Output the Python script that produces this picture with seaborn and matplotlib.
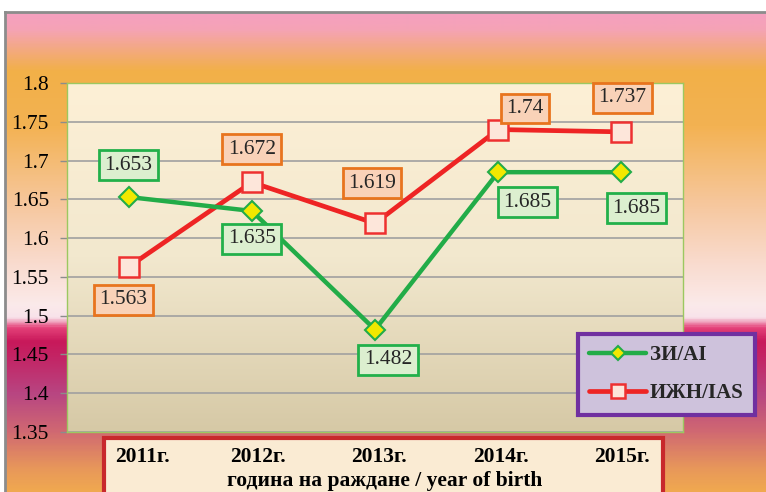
import numpy as np
import pandas as pd
import matplotlib
matplotlib.use('Agg')
import matplotlib.pyplot as plt
from matplotlib.colors import LinearSegmentedColormap
from matplotlib.patches import Rectangle
from matplotlib.transforms import ScaledTranslation
import seaborn as sns

# Données
years = ['2011г.', '2012г.', '2013г.', '2014г.', '2015г.']
ai_values = [1.653, 1.635, 1.482, 1.685, 1.685]
ias_values = [1.563, 1.672, 1.619, 1.740, 1.737]
ai_text = ['1.653', '1.635', '1.482', '1.685', '1.685']
ias_text = ['1.563', '1.672', '1.619', '1.74', '1.737']
y_ticks = [1.35, 1.4, 1.45, 1.5, 1.55, 1.6, 1.65, 1.7, 1.75, 1.8]
y_tick_labels = ['1.35', '1.4', '1.45', '1.5', '1.55', '1.6', '1.65', '1.7', '1.75', '1.8']
series_names = ['ЗИ/AI', 'ИЖН/IAS']
x_title = 'година на раждане / year of birth'

# Décalages des étiquettes (pixels)
ai_offsets = [(0, 32), (0, -28), (13, -30), (29, -30), (15, -36)]
ias_offsets = [(-5, -33), (0, 33), (-3, 40), (27, 21), (1, 34)]
xlabel_shift = [14, 6, 4, 3, 1]

df = pd.DataFrame({
    'pos': list(range(len(years))) * 2,
    'value': ai_values + ias_values,
    'series': [series_names[0]] * len(years) + [series_names[1]] * len(years),
})

sns.set_theme(style='white')
plt.rcParams['font.family'] = ['Liberation Serif', 'DejaVu Serif']

W, H = 766, 492
fig = plt.figure(figsize=(W / 100, H / 100), dpi=100)

# Fond dégradé du cadre
bg = fig.add_axes([5 / W, 0, 1 - 5 / W, 1 - 12 / H])
bg.set_zorder(-2)
stops_px = [(12, '#F5A0C0'), (28, '#F5A3B6'), (70, '#F2B048'), (125, '#F3B252'),
            (200, '#F6C69A'), (260, '#F9DACC'), (305, '#FBEAEA'), (318, '#F8E2EA'),
            (328, '#E5427A'), (342, '#C8185A'), (362, '#C22868'), (395, '#B84682'),
            (432, '#D06872'), (470, '#E8985A'), (492, '#F0A850')]
stops = [((y - 12) / (H - 12), c) for y, c in stops_px]
cmap_bg = LinearSegmentedColormap.from_list('fond', stops)
bg.imshow(np.linspace(0, 1, 600).reshape(-1, 1), cmap=cmap_bg, aspect='auto',
          extent=[0, 1, 0, 1], interpolation='bilinear')
bg.set_xticks([])
bg.set_yticks([])
for side in ['right', 'bottom']:
    bg.spines[side].set_visible(False)
for side in ['top', 'left']:
    bg.spines[side].set_color('#8C8C8C')
    bg.spines[side].set_linewidth(2)

# Boîte rouge de l'axe des x
bg.add_patch(Rectangle((104 / W, -0.05), (663 - 104) / W, 1 - 438 / H + 0.05,
                       transform=fig.transFigure, facecolor='#FAEBD3',
                       edgecolor='#C8282C', linewidth=3, clip_on=False))

rect = [67 / W, 1 - 432 / H, (683 - 67) / W, (432 - 83) / H]

# Fond dégradé de la zone de tracé
pa = fig.add_axes(rect)
pa.set_zorder(-1)
cmap_pa = LinearSegmentedColormap.from_list('zone', [(0, '#FDF0D6'), (0.5, '#F2E8CE'), (1, '#D6C9A6')])
pa.imshow(np.linspace(0, 1, 400).reshape(-1, 1), cmap=cmap_pa, aspect='auto',
          extent=[0, 1, 0, 1], interpolation='bilinear')
pa.set_axis_off()

ax = fig.add_axes(rect)
ax.set_zorder(1)
ax.set_facecolor('none')

sns.lineplot(data=df[df['series'] == series_names[0]], x='pos', y='value', ax=ax,
             color='#22AC48', linewidth=3.2, marker='D', markersize=10,
             markerfacecolor='#F2E800', markeredgecolor='#22AC48', markeredgewidth=1.5,
             label=series_names[0], zorder=4)
sns.lineplot(data=df[df['series'] == series_names[1]], x='pos', y='value', ax=ax,
             color='#EE2424', linewidth=3.4, marker='s', markersize=14,
             markerfacecolor='#FDE6DA', markeredgecolor='#EE3030', markeredgewidth=1.8,
             label=series_names[1], zorder=3)

# Étiquettes de valeurs
for i, (v, t) in enumerate(zip(ai_values, ai_text)):
    ax.annotate(t, (i, v), xytext=ai_offsets[i], textcoords='offset pixels',
                ha='center', va='center', fontsize=15.5, zorder=6,
                bbox=dict(boxstyle='square,pad=0.25', facecolor='#DCEFCF',
                          edgecolor='#22B04A', linewidth=2))
for i, (v, t) in enumerate(zip(ias_values, ias_text)):
    ax.annotate(t, (i, v), xytext=ias_offsets[i], textcoords='offset pixels',
                ha='center', va='center', fontsize=15.5, zorder=6,
                bbox=dict(boxstyle='square,pad=0.25', facecolor='#F9D2B8',
                          edgecolor='#E8741E', linewidth=2))

ax.set_xlim(-0.5, len(years) - 0.5)
ax.set_ylim(y_ticks[0], y_ticks[-1])
ax.set_yticks(y_ticks, y_tick_labels, fontsize=15.5)
ax.set_xticks(range(len(years)), years, fontsize=15.5, fontweight='bold')
ax.tick_params(axis='y', left=True, length=5, width=1, color='#8C8C8C', pad=8, labelcolor='black')
ax.tick_params(axis='x', length=0, pad=11, labelcolor='black')
for lbl, dx in zip(ax.get_xticklabels(), xlabel_shift):
    lbl.set_transform(lbl.get_transform() + ScaledTranslation(dx / 100, 0, fig.dpi_scale_trans))
ax.grid(axis='y', color='#A0A0A0', linewidth=1.2)
ax.grid(axis='x', visible=False)
for side in ax.spines:
    ax.spines[side].set_color('#9CC860')
    ax.spines[side].set_linewidth(1)

ax.set_ylabel('')
ax.set_xlabel(x_title, fontsize=15.5, fontweight='bold', color='black')
ax.xaxis.label.set_va('center')
ax.xaxis.set_label_coords((385 - 67) / 616, (432 - 481) / 349)

leg = ax.legend(loc='upper left', bbox_to_anchor=(578 / W, 1 - 334 / H),
                bbox_transform=fig.transFigure, prop=dict(weight='bold', size=15),
                frameon=True, fancybox=False, framealpha=1, facecolor='#CEC2DC',
                edgecolor='#7030A0', handlelength=2.7, labelspacing=0.85,
                handletextpad=0.2, borderpad=0.55, borderaxespad=0, markerscale=0.7)
leg.get_frame().set_linewidth(3)
leg.set_zorder(10)

fig.savefig('out.png', dpi=100)
